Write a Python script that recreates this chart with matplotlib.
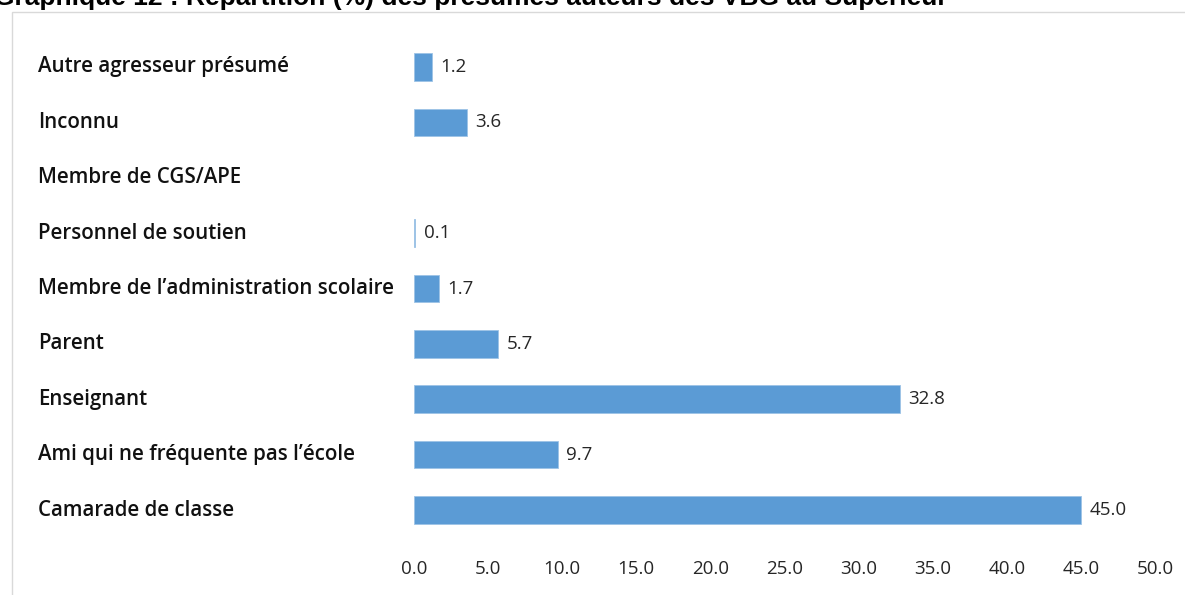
import numpy as np
import matplotlib.pyplot as plt
from matplotlib.patches import Rectangle
from matplotlib.transforms import blended_transform_factory

categories = ["Camarade de classe",
              "Ami qui ne fréquente pas l\u2019école",
              "Enseignant",
              "Parent",
              "Membre de l\u2019administration scolaire",
              "Personnel de soutien",
              "Membre de CGS/APE",
              "Inconnu",
              "Autre agresseur présumé"]
values = [45.0, 9.7, 32.8, 5.7, 1.7, 0.1, np.nan, 3.6, 1.2]
xticks = np.arange(0, 50.1, 5)

title = "Graphique 12 : Répartition (%) des présumés auteurs des VBG au Supérieur"

fig = plt.figure(figsize=(11.85, 5.95), dpi=100)
fig.patch.set_facecolor("white")

# outer chart frame (light grey)
fig.patches.append(Rectangle((12 / 1185, -0.05), 1.1, 1 - 12 / 595 + 0.05,
                             transform=fig.transFigure, fill=False,
                             edgecolor="#d9d9d9", linewidth=1.0))

# title, clipped at the top like in the source
fig.text(-6 / 1185, 1 - 5 / 595, title, fontsize=19, fontweight="bold",
         family="Liberation Sans", va="baseline", ha="left")

ax = fig.add_axes([414 / 1185, 1 - 537.7 / 595, 741 / 1185, (537.7 - 39.3) / 595])
y = np.arange(len(categories))
vals = np.array(values)
mask = ~np.isnan(vals)
ax.barh(y[mask], vals[mask], height=0.5, color="#5b9bd5", edgecolor="#9dc3e6", linewidth=0.6)

for yi, v in zip(y, values):
    if not np.isnan(v):
        ax.annotate(f"{v:.1f}", (v, yi), xytext=(6, 0), textcoords="offset points",
                    va="center", ha="left", fontsize=13.5, family="Open Sans", color="#262626")

ax.set_xlim(0, 50)
ax.set_ylim(-0.5, len(categories) - 0.5)
ax.set_xticks(xticks)
ax.set_xticklabels([f"{t:.1f}" for t in xticks], fontsize=13.5, family="Open Sans", color="#262626")
ax.set_yticks(y)
ax.set_yticklabels([])
ax.tick_params(axis="both", length=0)
ax.tick_params(axis="x", pad=16)
for s in ax.spines.values():
    s.set_visible(False)

trans = blended_transform_factory(fig.transFigure, ax.transData)
for yi, c in zip(y, categories):
    ax.text(38 / 1185, yi, c, transform=trans, va="center", ha="left",
            fontsize=14.8, family="Open Sans", fontweight="semibold", color="#111111")

fig.savefig("out.png", dpi=100)
